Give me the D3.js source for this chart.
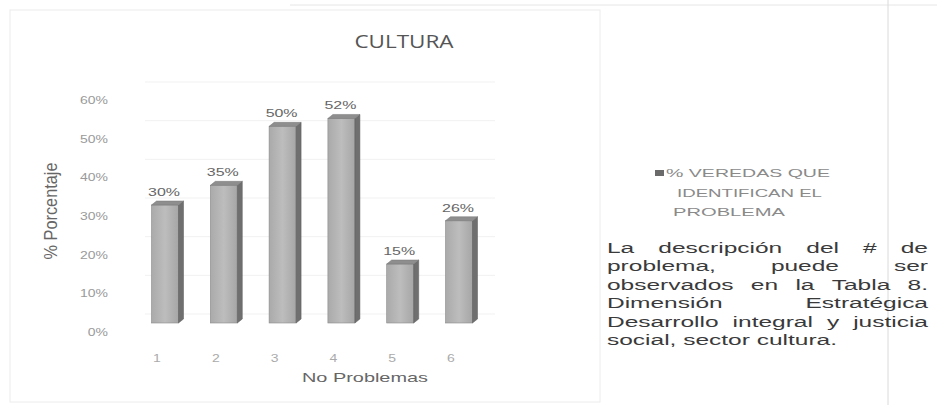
<!DOCTYPE html>
<html><head><meta charset="utf-8">
<script src="https://cdn.jsdelivr.net/npm/d3@7/dist/d3.min.js"></script>
<style>html,body{margin:0;padding:0;background:#fff;}svg{display:block;}</style>
</head><body>
<svg id="c" width="937" height="405"></svg>
<script>
// ---- data ----
const categories = ["1","2","3","4","5","6"];
const values = [30, 35, 50, 52, 15, 26];
const valueLabels = ["30%","35%","50%","52%","15%","26%"];
const yTicks = [0,10,20,30,40,50,60];
const yTickLabels = ["0%","10%","20%","30%","40%","50%","60%"];
const title = "CULTURA";
const xTitle = "No Problemas";
const yTitle = "% Porcentaje";
const legendLines = ["% VEREDAS QUE","IDENTIFICAN EL","PROBLEMA"];
const paragraph = [
  "La descripción del # de",
  "problema, puede ser",
  "observados en la Tabla 8.",
  "Dimensión Estratégica",
  "Desarrollo integral y justicia",
  "social, sector cultura."
];

const svg = d3.select("#c");
const FONT = "'Liberation Sans', Arial, sans-serif";
const K = 1.4; // horizontal stretch of the scanned picture

// frames / page lines
svg.append("line").attr("x1",290).attr("x2",937).attr("y1",5).attr("y2",5).attr("stroke","#e6e6e6");
svg.append("line").attr("x1",888).attr("x2",888).attr("y1",0).attr("y2",405).attr("stroke","#dadada");
svg.append("rect").attr("x",10).attr("y",10).attr("width",590).attr("height",392)
  .attr("fill","none").attr("stroke","#ececec");

// helper: stretched text
function stext(g, txt, x, y, opts) {
  opts = opts || {};
  const t = g.append("text")
    .attr("transform", `translate(${x},${y}) scale(${opts.k||K},1)`)
    .attr("text-anchor", opts.anchor || "start")
    .attr("font-family", opts.font || FONT)
    .attr("font-size", opts.size || 11)
    .attr("fill", opts.fill || "#666")
    .text(txt);
  return t;
}

// scales
const x = d3.scalePoint().domain(categories).range([165, 459]);
const yb = d3.scaleLinear().domain([0, 60]).range([323, 87]);   // bars (front plane)
const ya = d3.scaleLinear().domain([0, 60]).range([332, 100]);  // axis labels
const backShift = -18;

// title
stext(svg, title, 404, 48, {anchor:"middle", size:18, fill:"#555", font:"'Open Sans', sans-serif", k:1.25});

// back gridlines
svg.append("g").selectAll("line").data(yTicks).join("line")
  .attr("x1", 145).attr("x2", 495)
  .attr("y1", d => ya(d) + backShift).attr("y2", d => ya(d) + backShift)
  .attr("stroke", "#f1f1f1");

// y tick labels
const yg = svg.append("g");
yTicks.forEach((t,i) => {
  stext(yg, yTickLabels[i], 108, ya(t) + 4, {anchor:"end", size:10, fill:"#9a9a9a"});
});

// y title
svg.append("text")
  .attr("transform", `translate(57,211) rotate(-90) scale(1,1.35)`)
  .attr("text-anchor","middle").attr("font-family",FONT).attr("font-size",14)
  .attr("fill","#666").attr("textLength",97).attr("lengthAdjust","spacingAndGlyphs")
  .text(yTitle);

// bars (3D)
const fw = 27, dx = 5, dy = 4;
const defs = svg.append("defs");
const grad = defs.append("linearGradient").attr("id","front").attr("x1","0").attr("x2","1").attr("y1","0").attr("y2","0");
grad.append("stop").attr("offset","0").attr("stop-color","#aaaaaa");
grad.append("stop").attr("offset","0.5").attr("stop-color","#bdbdbd");
grad.append("stop").attr("offset","1").attr("stop-color","#a6a6a6");

const bars = svg.append("g").selectAll("g").data(values).join("g");
bars.append("rect")
  .attr("x", (d,i) => x(categories[i]) - fw/2)
  .attr("y", d => yb(d))
  .attr("width", fw)
  .attr("height", d => yb(0) - yb(d))
  .attr("fill", "url(#front)").attr("stroke","#8a8a8a").attr("stroke-width",0.6);
bars.append("path")
  .attr("d", (d,i) => {
    const x1 = x(categories[i]) + fw/2, t = yb(d), b = yb(0);
    return `M${x1},${t}L${x1+dx},${t-dy}L${x1+dx},${b-dy}L${x1},${b}Z`;
  })
  .attr("fill","#6f6f6f").attr("stroke","#5a5a5a").attr("stroke-width",0.5);
bars.append("path")
  .attr("d", (d,i) => {
    const x0 = x(categories[i]) - fw/2, x1 = x0 + fw, t = yb(d);
    return `M${x0},${t}L${x1},${t}L${x1+dx},${t-dy}L${x0+dx},${t-dy}Z`;
  })
  .attr("fill","#8e8e8e").attr("stroke","#777").attr("stroke-width",0.5);

// value labels
const vg = svg.append("g");
values.forEach((v,i) => {
  stext(vg, valueLabels[i], x(categories[i]) - 1, yb(v) - 9, {anchor:"middle", size:11, fill:"#666", k:1.45});
});

// x tick labels
const xg = svg.append("g");
categories.forEach(c => {
  stext(xg, c, x(c) - 8, 362, {anchor:"middle", size:10, fill:"#aaa"});
});

// x title
svg.append("text").attr("x",302).attr("y",382)
  .attr("font-family",FONT).attr("font-size",13).attr("fill","#666")
  .attr("textLength",126).attr("lengthAdjust","spacingAndGlyphs")
  .text(xTitle);

// legend
svg.append("rect").attr("x",655).attr("y",170).attr("width",9).attr("height",6).attr("fill","#6a6a6a");
const legX = [666, 677, 673], legW = [164, 145, 112], legY = [177, 197, 216];
legendLines.forEach((s,i) => {
  svg.append("text").attr("x",legX[i]).attr("y",legY[i])
    .attr("font-family",FONT).attr("font-size",10.5).attr("fill","#8a8a8a")
    .attr("textLength",legW[i]).attr("lengthAdjust","spacingAndGlyphs")
    .text(s);
});

// justified paragraph
const pg = svg.append("g");
const pL = 607, pR = 928, pY0 = 253, pLH = 18.4, pSize = 15.5, pK = 1.58;
paragraph.forEach((line, li) => {
  const words = line.split(" ");
  const y = pY0 + li * pLH;
  const nodes = words.map(w => stext(pg, w, 0, y, {size:pSize, fill:"#3a3a3a", k:pK}));
  const widths = nodes.map(n => n.node().getComputedTextLength() * pK);
  const total = d3.sum(widths);
  const last = li === paragraph.length - 1;
  const gap = (last || words.length < 2) ? pSize * 0.278 * pK : (pR - pL - total) / (words.length - 1);
  let cx = pL;
  nodes.forEach((n,i) => {
    n.attr("transform", `translate(${cx},${y}) scale(${pK},1)`);
    cx += widths[i] + gap;
  });
});
</script>
</body></html>
